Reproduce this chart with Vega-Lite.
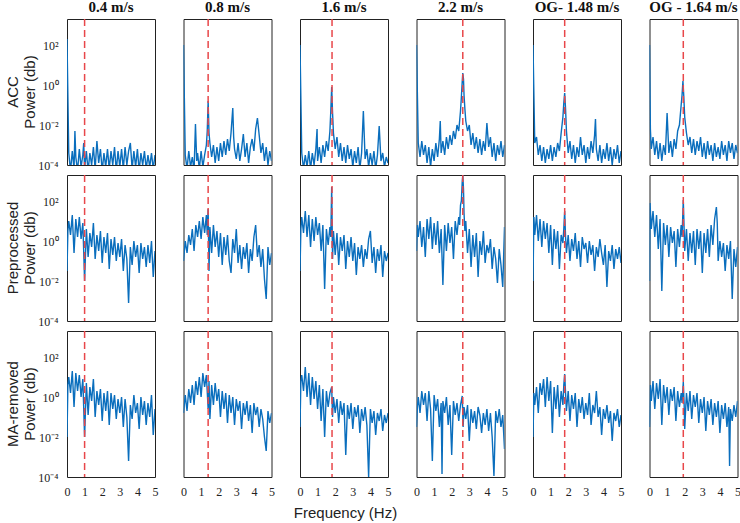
{
"$schema": "https://vega.github.io/schema/vega-lite/v6.json",
"padding": {"left": 5, "top": 0, "right": 0, "bottom": 0},
"background": "white",
"title": {"text": "Frequency (Hz)", "orient": "bottom", "anchor": "start", "dx": 288, "font": "Liberation Sans", "fontSize": 15, "fontWeight": "normal", "color": "#222", "offset": 9},
"data": {"values": [
{"r":"A","c":1,"m":1.0},{"r":"A","c":2,"m":1.4},{"r":"A","c":3,"m":1.82},{"r":"A","c":4,"m":2.63},{"r":"A","c":5,"m":1.8},{"r":"A","c":6,"m":1.92},
{"r":"P","c":1,"m":1.0},{"r":"P","c":2,"m":1.4},{"r":"P","c":3,"m":1.82},{"r":"P","c":4,"m":2.63},{"r":"P","c":5,"m":1.8},{"r":"P","c":6,"m":1.92},
{"r":"M","c":1,"m":1.0},{"r":"M","c":2,"m":1.4},{"r":"M","c":3,"m":1.82},{"r":"M","c":4,"m":2.63},{"r":"M","c":5,"m":1.8},{"r":"M","c":6,"m":1.92},
{"r":"A","c":1,"f":0,"v":2.3},{"r":"A","c":1,"f":0.1,"v":-3.4},{"r":"A","c":1,"f":0.2,"v":-4.3},{"r":"A","c":1,"f":0.3,"v":-3.3},{"r":"A","c":1,"f":0.4,"v":-4.2},{"r":"A","c":1,"f":0.45,"v":-2.3},{"r":"A","c":1,"f":0.5,"v":-3.6},{"r":"A","c":1,"f":0.6,"v":-4.3},{"r":"A","c":1,"f":0.7,"v":-3.2},{"r":"A","c":1,"f":0.8,"v":-4.1},{"r":"A","c":1,"f":0.9,"v":-3.5},{"r":"A","c":1,"f":0.95,"v":-2.9},{"r":"A","c":1,"f":1,"v":-4.2},{"r":"A","c":1,"f":1.1,"v":-3.3},{"r":"A","c":1,"f":1.2,"v":-4.3},{"r":"A","c":1,"f":1.3,"v":-3.4},{"r":"A","c":1,"f":1.4,"v":-4},{"r":"A","c":1,"f":1.5,"v":-3.1},{"r":"A","c":1,"f":1.6,"v":-4.2},{"r":"A","c":1,"f":1.7,"v":-2.8},{"r":"A","c":1,"f":1.8,"v":-3.9},{"r":"A","c":1,"f":1.9,"v":-3.2},{"r":"A","c":1,"f":2,"v":-4.3},{"r":"A","c":1,"f":2.1,"v":-3.4},{"r":"A","c":1,"f":2.2,"v":-4.1},{"r":"A","c":1,"f":2.3,"v":-3.2},{"r":"A","c":1,"f":2.4,"v":-4.2},{"r":"A","c":1,"f":2.5,"v":-3.3},{"r":"A","c":1,"f":2.6,"v":-4},{"r":"A","c":1,"f":2.7,"v":-3.1},{"r":"A","c":1,"f":2.8,"v":-4.3},{"r":"A","c":1,"f":2.9,"v":-3.3},{"r":"A","c":1,"f":3,"v":-4.1},{"r":"A","c":1,"f":3.1,"v":-3.2},{"r":"A","c":1,"f":3.2,"v":-4.2},{"r":"A","c":1,"f":3.3,"v":-3.1},{"r":"A","c":1,"f":3.4,"v":-4},{"r":"A","c":1,"f":3.5,"v":-3.3},{"r":"A","c":1,"f":3.6,"v":-2.9},{"r":"A","c":1,"f":3.7,"v":-4.2},{"r":"A","c":1,"f":3.8,"v":-3.3},{"r":"A","c":1,"f":3.9,"v":-4.1},{"r":"A","c":1,"f":4,"v":-3.2},{"r":"A","c":1,"f":4.1,"v":-4.3},{"r":"A","c":1,"f":4.2,"v":-3.4},{"r":"A","c":1,"f":4.3,"v":-4},{"r":"A","c":1,"f":4.4,"v":-3.3},{"r":"A","c":1,"f":4.5,"v":-4.2},{"r":"A","c":1,"f":4.6,"v":-3.5},{"r":"A","c":1,"f":4.7,"v":-4.1},{"r":"A","c":1,"f":4.8,"v":-3.4},{"r":"A","c":1,"f":4.9,"v":-4.2},{"r":"A","c":1,"f":5,"v":-3.5},
{"r":"A","c":2,"f":0,"v":2.0},{"r":"A","c":2,"f":0.1,"v":-3.5},{"r":"A","c":2,"f":0.2,"v":-4.2},{"r":"A","c":2,"f":0.3,"v":-3.3},{"r":"A","c":2,"f":0.4,"v":-4.1},{"r":"A","c":2,"f":0.5,"v":-3.6},{"r":"A","c":2,"f":0.6,"v":-4.3},{"r":"A","c":2,"f":0.68,"v":-1.95},{"r":"A","c":2,"f":0.75,"v":-3.8},{"r":"A","c":2,"f":0.8,"v":-3.4},{"r":"A","c":2,"f":0.9,"v":-4.2},{"r":"A","c":2,"f":1,"v":-3.3},{"r":"A","c":2,"f":1.1,"v":-4.1},{"r":"A","c":2,"f":1.2,"v":-3.5},{"r":"A","c":2,"f":1.3,"v":-3.0},{"r":"A","c":2,"f":1.35,"v":-2.3},{"r":"A","c":2,"f":1.4,"v":-0.8},{"r":"A","c":2,"f":1.45,"v":-2.4},{"r":"A","c":2,"f":1.5,"v":-2.9},{"r":"A","c":2,"f":1.6,"v":-3.6},{"r":"A","c":2,"f":1.7,"v":-3.0},{"r":"A","c":2,"f":1.8,"v":-3.9},{"r":"A","c":2,"f":1.9,"v":-3.1},{"r":"A","c":2,"f":2,"v":-3.8},{"r":"A","c":2,"f":2.1,"v":-2.9},{"r":"A","c":2,"f":2.2,"v":-3.6},{"r":"A","c":2,"f":2.3,"v":-2.8},{"r":"A","c":2,"f":2.4,"v":-3.5},{"r":"A","c":2,"f":2.5,"v":-2.7},{"r":"A","c":2,"f":2.6,"v":-3.3},{"r":"A","c":2,"f":2.7,"v":-2.4},{"r":"A","c":2,"f":2.8,"v":-1.15},{"r":"A","c":2,"f":2.85,"v":-2.6},{"r":"A","c":2,"f":2.9,"v":-3.2},{"r":"A","c":2,"f":3,"v":-3.7},{"r":"A","c":2,"f":3.1,"v":-2.9},{"r":"A","c":2,"f":3.2,"v":-3.8},{"r":"A","c":2,"f":3.3,"v":-3.2},{"r":"A","c":2,"f":3.4,"v":-2.45},{"r":"A","c":2,"f":3.5,"v":-3.6},{"r":"A","c":2,"f":3.6,"v":-2.9},{"r":"A","c":2,"f":3.7,"v":-3.9},{"r":"A","c":2,"f":3.8,"v":-3.1},{"r":"A","c":2,"f":3.9,"v":-2.7},{"r":"A","c":2,"f":4,"v":-3.3},{"r":"A","c":2,"f":4.1,"v":-2.2},{"r":"A","c":2,"f":4.2,"v":-1.65},{"r":"A","c":2,"f":4.3,"v":-2.5},{"r":"A","c":2,"f":4.4,"v":-3.4},{"r":"A","c":2,"f":4.5,"v":-2.9},{"r":"A","c":2,"f":4.6,"v":-3.8},{"r":"A","c":2,"f":4.7,"v":-3.1},{"r":"A","c":2,"f":4.8,"v":-4.0},{"r":"A","c":2,"f":4.9,"v":-3.3},{"r":"A","c":2,"f":5,"v":-3.8},
{"r":"A","c":3,"f":0,"v":2.0},{"r":"A","c":3,"f":0.1,"v":-3.4},{"r":"A","c":3,"f":0.2,"v":-4.2},{"r":"A","c":3,"f":0.3,"v":-3.5},{"r":"A","c":3,"f":0.4,"v":-4.1},{"r":"A","c":3,"f":0.5,"v":-3.3},{"r":"A","c":3,"f":0.6,"v":-4.2},{"r":"A","c":3,"f":0.7,"v":-3.4},{"r":"A","c":3,"f":0.8,"v":-4.0},{"r":"A","c":3,"f":0.9,"v":-3.2},{"r":"A","c":3,"f":0.97,"v":-2.2},{"r":"A","c":3,"f":1,"v":-3.8},{"r":"A","c":3,"f":1.1,"v":-3.1},{"r":"A","c":3,"f":1.2,"v":-3.9},{"r":"A","c":3,"f":1.3,"v":-3.0},{"r":"A","c":3,"f":1.4,"v":-3.6},{"r":"A","c":3,"f":1.5,"v":-2.8},{"r":"A","c":3,"f":1.6,"v":-3.3},{"r":"A","c":3,"f":1.7,"v":-2.3},{"r":"A","c":3,"f":1.75,"v":-1.3},{"r":"A","c":3,"f":1.8,"v":-0.1},{"r":"A","c":3,"f":1.85,"v":-1.4},{"r":"A","c":3,"f":1.9,"v":-2.4},{"r":"A","c":3,"f":2,"v":-3.2},{"r":"A","c":3,"f":2.1,"v":-2.6},{"r":"A","c":3,"f":2.2,"v":-3.6},{"r":"A","c":3,"f":2.3,"v":-2.9},{"r":"A","c":3,"f":2.4,"v":-3.8},{"r":"A","c":3,"f":2.5,"v":-3.1},{"r":"A","c":3,"f":2.6,"v":-3.9},{"r":"A","c":3,"f":2.7,"v":-3.0},{"r":"A","c":3,"f":2.8,"v":-3.7},{"r":"A","c":3,"f":2.9,"v":-3.2},{"r":"A","c":3,"f":3,"v":-4.1},{"r":"A","c":3,"f":3.1,"v":-3.3},{"r":"A","c":3,"f":3.2,"v":-3.9},{"r":"A","c":3,"f":3.3,"v":-3.1},{"r":"A","c":3,"f":3.4,"v":-4.2},{"r":"A","c":3,"f":3.5,"v":-3.4},{"r":"A","c":3,"f":3.6,"v":-1.3},{"r":"A","c":3,"f":3.7,"v":-3.7},{"r":"A","c":3,"f":3.8,"v":-3.2},{"r":"A","c":3,"f":3.9,"v":-4.1},{"r":"A","c":3,"f":4,"v":-3.4},{"r":"A","c":3,"f":4.1,"v":-4.0},{"r":"A","c":3,"f":4.2,"v":-3.3},{"r":"A","c":3,"f":4.3,"v":-4.2},{"r":"A","c":3,"f":4.4,"v":-3.5},{"r":"A","c":3,"f":4.5,"v":-2.05},{"r":"A","c":3,"f":4.6,"v":-3.8},{"r":"A","c":3,"f":4.7,"v":-3.4},{"r":"A","c":3,"f":4.8,"v":-4.1},{"r":"A","c":3,"f":4.9,"v":-3.6},{"r":"A","c":3,"f":5,"v":-3.9},
{"r":"A","c":4,"f":0,"v":2.0},{"r":"A","c":4,"f":0.1,"v":-2.9},{"r":"A","c":4,"f":0.2,"v":-3.6},{"r":"A","c":4,"f":0.3,"v":-2.8},{"r":"A","c":4,"f":0.4,"v":-3.5},{"r":"A","c":4,"f":0.5,"v":-3.0},{"r":"A","c":4,"f":0.6,"v":-3.9},{"r":"A","c":4,"f":0.7,"v":-3.1},{"r":"A","c":4,"f":0.8,"v":-4.1},{"r":"A","c":4,"f":0.9,"v":-3.2},{"r":"A","c":4,"f":1,"v":-3.8},{"r":"A","c":4,"f":1.1,"v":-2.9},{"r":"A","c":4,"f":1.2,"v":-3.6},{"r":"A","c":4,"f":1.3,"v":-2.7},{"r":"A","c":4,"f":1.35,"v":-1.8},{"r":"A","c":4,"f":1.4,"v":-3.4},{"r":"A","c":4,"f":1.5,"v":-2.8},{"r":"A","c":4,"f":1.6,"v":-3.5},{"r":"A","c":4,"f":1.7,"v":-2.6},{"r":"A","c":4,"f":1.8,"v":-3.2},{"r":"A","c":4,"f":1.9,"v":-2.5},{"r":"A","c":4,"f":2,"v":-3.0},{"r":"A","c":4,"f":2.1,"v":-2.3},{"r":"A","c":4,"f":2.2,"v":-2.7},{"r":"A","c":4,"f":2.3,"v":-2.0},{"r":"A","c":4,"f":2.4,"v":-2.3},{"r":"A","c":4,"f":2.5,"v":-1.3},{"r":"A","c":4,"f":2.55,"v":-0.6},{"r":"A","c":4,"f":2.6,"v":0.2},{"r":"A","c":4,"f":2.63,"v":0.6},{"r":"A","c":4,"f":2.67,"v":0.3},{"r":"A","c":4,"f":2.7,"v":-0.5},{"r":"A","c":4,"f":2.75,"v":-1.2},{"r":"A","c":4,"f":2.8,"v":-1.8},{"r":"A","c":4,"f":2.9,"v":-2.3},{"r":"A","c":4,"f":3,"v":-2.0},{"r":"A","c":4,"f":3.1,"v":-3.0},{"r":"A","c":4,"f":3.2,"v":-2.4},{"r":"A","c":4,"f":3.3,"v":-3.2},{"r":"A","c":4,"f":3.4,"v":-2.6},{"r":"A","c":4,"f":3.5,"v":-3.4},{"r":"A","c":4,"f":3.6,"v":-2.7},{"r":"A","c":4,"f":3.7,"v":-3.5},{"r":"A","c":4,"f":3.8,"v":-2.8},{"r":"A","c":4,"f":3.9,"v":-3.3},{"r":"A","c":4,"f":4,"v":-1.9},{"r":"A","c":4,"f":4.1,"v":-3.1},{"r":"A","c":4,"f":4.2,"v":-2.6},{"r":"A","c":4,"f":4.3,"v":-3.6},{"r":"A","c":4,"f":4.4,"v":-2.9},{"r":"A","c":4,"f":4.5,"v":-3.8},{"r":"A","c":4,"f":4.6,"v":-3.0},{"r":"A","c":4,"f":4.7,"v":-3.5},{"r":"A","c":4,"f":4.8,"v":-2.8},{"r":"A","c":4,"f":4.9,"v":-3.6},{"r":"A","c":4,"f":5,"v":-3.0},
{"r":"A","c":5,"f":0,"v":2.0},{"r":"A","c":5,"f":0.1,"v":-2.9},{"r":"A","c":5,"f":0.2,"v":-2.6},{"r":"A","c":5,"f":0.3,"v":-3.5},{"r":"A","c":5,"f":0.4,"v":-3.0},{"r":"A","c":5,"f":0.5,"v":-3.8},{"r":"A","c":5,"f":0.6,"v":-3.1},{"r":"A","c":5,"f":0.7,"v":-3.9},{"r":"A","c":5,"f":0.8,"v":-3.2},{"r":"A","c":5,"f":0.9,"v":-3.7},{"r":"A","c":5,"f":1,"v":-3.0},{"r":"A","c":5,"f":1.1,"v":-3.8},{"r":"A","c":5,"f":1.2,"v":-3.1},{"r":"A","c":5,"f":1.3,"v":-3.6},{"r":"A","c":5,"f":1.4,"v":-2.9},{"r":"A","c":5,"f":1.5,"v":-3.3},{"r":"A","c":5,"f":1.6,"v":-2.4},{"r":"A","c":5,"f":1.7,"v":-1.6},{"r":"A","c":5,"f":1.75,"v":-0.9},{"r":"A","c":5,"f":1.8,"v":-0.4},{"r":"A","c":5,"f":1.85,"v":-1.2},{"r":"A","c":5,"f":1.9,"v":-2.3},{"r":"A","c":5,"f":2,"v":-3.4},{"r":"A","c":5,"f":2.1,"v":-2.8},{"r":"A","c":5,"f":2.2,"v":-3.7},{"r":"A","c":5,"f":2.3,"v":-3.0},{"r":"A","c":5,"f":2.4,"v":-3.9},{"r":"A","c":5,"f":2.5,"v":-3.1},{"r":"A","c":5,"f":2.6,"v":-3.6},{"r":"A","c":5,"f":2.7,"v":-2.6},{"r":"A","c":5,"f":2.8,"v":-3.5},{"r":"A","c":5,"f":2.9,"v":-3.0},{"r":"A","c":5,"f":3,"v":-3.9},{"r":"A","c":5,"f":3.1,"v":-3.1},{"r":"A","c":5,"f":3.2,"v":-3.7},{"r":"A","c":5,"f":3.3,"v":-2.8},{"r":"A","c":5,"f":3.4,"v":-3.4},{"r":"A","c":5,"f":3.5,"v":-2.5},{"r":"A","c":5,"f":3.55,"v":-1.7},{"r":"A","c":5,"f":3.6,"v":-3.2},{"r":"A","c":5,"f":3.7,"v":-3.8},{"r":"A","c":5,"f":3.8,"v":-3.0},{"r":"A","c":5,"f":3.9,"v":-3.9},{"r":"A","c":5,"f":4,"v":-3.2},{"r":"A","c":5,"f":4.1,"v":-3.7},{"r":"A","c":5,"f":4.2,"v":-2.9},{"r":"A","c":5,"f":4.3,"v":-3.8},{"r":"A","c":5,"f":4.4,"v":-3.1},{"r":"A","c":5,"f":4.5,"v":-4.0},{"r":"A","c":5,"f":4.6,"v":-3.2},{"r":"A","c":5,"f":4.7,"v":-3.7},{"r":"A","c":5,"f":4.8,"v":-3.0},{"r":"A","c":5,"f":4.9,"v":-3.9},{"r":"A","c":5,"f":5,"v":-3.3},
{"r":"A","c":6,"f":0,"v":2.0},{"r":"A","c":6,"f":0.05,"v":-2.2},{"r":"A","c":6,"f":0.1,"v":-3.2},{"r":"A","c":6,"f":0.2,"v":-2.6},{"r":"A","c":6,"f":0.3,"v":-3.5},{"r":"A","c":6,"f":0.4,"v":-2.8},{"r":"A","c":6,"f":0.5,"v":-3.7},{"r":"A","c":6,"f":0.6,"v":-2.9},{"r":"A","c":6,"f":0.7,"v":-3.8},{"r":"A","c":6,"f":0.8,"v":-3.0},{"r":"A","c":6,"f":0.9,"v":-3.5},{"r":"A","c":6,"f":1,"v":-1.4},{"r":"A","c":6,"f":1.1,"v":-3.4},{"r":"A","c":6,"f":1.2,"v":-2.8},{"r":"A","c":6,"f":1.3,"v":-3.6},{"r":"A","c":6,"f":1.4,"v":-2.7},{"r":"A","c":6,"f":1.5,"v":-3.2},{"r":"A","c":6,"f":1.6,"v":-2.3},{"r":"A","c":6,"f":1.7,"v":-2.0},{"r":"A","c":6,"f":1.8,"v":-1.0},{"r":"A","c":6,"f":1.85,"v":-0.5},{"r":"A","c":6,"f":1.9,"v":0.2},{"r":"A","c":6,"f":1.95,"v":-0.6},{"r":"A","c":6,"f":2,"v":-1.6},{"r":"A","c":6,"f":2.1,"v":-2.4},{"r":"A","c":6,"f":2.2,"v":-3.0},{"r":"A","c":6,"f":2.3,"v":-2.6},{"r":"A","c":6,"f":2.4,"v":-3.4},{"r":"A","c":6,"f":2.5,"v":-2.7},{"r":"A","c":6,"f":2.6,"v":-3.5},{"r":"A","c":6,"f":2.7,"v":-2.8},{"r":"A","c":6,"f":2.8,"v":-3.3},{"r":"A","c":6,"f":2.9,"v":-2.6},{"r":"A","c":6,"f":3,"v":-3.6},{"r":"A","c":6,"f":3.1,"v":-2.9},{"r":"A","c":6,"f":3.2,"v":-3.7},{"r":"A","c":6,"f":3.3,"v":-2.8},{"r":"A","c":6,"f":3.4,"v":-3.5},{"r":"A","c":6,"f":3.5,"v":-3.0},{"r":"A","c":6,"f":3.6,"v":-3.8},{"r":"A","c":6,"f":3.7,"v":-2.9},{"r":"A","c":6,"f":3.8,"v":-3.6},{"r":"A","c":6,"f":3.9,"v":-3.1},{"r":"A","c":6,"f":4,"v":-3.7},{"r":"A","c":6,"f":4.1,"v":-2.8},{"r":"A","c":6,"f":4.2,"v":-3.5},{"r":"A","c":6,"f":4.3,"v":-3.0},{"r":"A","c":6,"f":4.4,"v":-3.8},{"r":"A","c":6,"f":4.5,"v":-2.8},{"r":"A","c":6,"f":4.6,"v":-3.4},{"r":"A","c":6,"f":4.7,"v":-2.9},{"r":"A","c":6,"f":4.8,"v":-3.7},{"r":"A","c":6,"f":4.9,"v":-3.0},{"r":"A","c":6,"f":5,"v":-3.4},
{"r":"P","c":1,"f":0,"v":-1.5},{"r":"P","c":1,"f":0.05,"v":0.5},{"r":"P","c":1,"f":0.1,"v":1.0},{"r":"P","c":1,"f":0.2,"v":0.3},{"r":"P","c":1,"f":0.3,"v":1.3},{"r":"P","c":1,"f":0.4,"v":-0.6},{"r":"P","c":1,"f":0.5,"v":1.1},{"r":"P","c":1,"f":0.6,"v":0.2},{"r":"P","c":1,"f":0.7,"v":1.2},{"r":"P","c":1,"f":0.8,"v":0.1},{"r":"P","c":1,"f":0.9,"v":0.9},{"r":"P","c":1,"f":1,"v":-2.0},{"r":"P","c":1,"f":1.1,"v":0.6},{"r":"P","c":1,"f":1.2,"v":-0.8},{"r":"P","c":1,"f":1.3,"v":0.4},{"r":"P","c":1,"f":1.4,"v":-0.3},{"r":"P","c":1,"f":1.5,"v":0.9},{"r":"P","c":1,"f":1.6,"v":-0.9},{"r":"P","c":1,"f":1.7,"v":0.3},{"r":"P","c":1,"f":1.8,"v":-0.5},{"r":"P","c":1,"f":1.9,"v":0.5},{"r":"P","c":1,"f":2,"v":-1.1},{"r":"P","c":1,"f":2.1,"v":0.2},{"r":"P","c":1,"f":2.2,"v":-0.6},{"r":"P","c":1,"f":2.3,"v":0.4},{"r":"P","c":1,"f":2.4,"v":-1.4},{"r":"P","c":1,"f":2.5,"v":0.1},{"r":"P","c":1,"f":2.6,"v":-0.7},{"r":"P","c":1,"f":2.7,"v":0.2},{"r":"P","c":1,"f":2.8,"v":-1.0},{"r":"P","c":1,"f":2.9,"v":-0.1},{"r":"P","c":1,"f":3,"v":-0.8},{"r":"P","c":1,"f":3.1,"v":0.1},{"r":"P","c":1,"f":3.2,"v":-1.5},{"r":"P","c":1,"f":3.3,"v":-0.2},{"r":"P","c":1,"f":3.4,"v":-0.9},{"r":"P","c":1,"f":3.5,"v":-3.1},{"r":"P","c":1,"f":3.6,"v":-0.3},{"r":"P","c":1,"f":3.7,"v":-1.2},{"r":"P","c":1,"f":3.8,"v":0.0},{"r":"P","c":1,"f":3.9,"v":-0.8},{"r":"P","c":1,"f":4,"v":-0.2},{"r":"P","c":1,"f":4.1,"v":-1.6},{"r":"P","c":1,"f":4.2,"v":-0.1},{"r":"P","c":1,"f":4.3,"v":-0.9},{"r":"P","c":1,"f":4.4,"v":-0.3},{"r":"P","c":1,"f":4.5,"v":-1.3},{"r":"P","c":1,"f":4.6,"v":-0.2},{"r":"P","c":1,"f":4.7,"v":-1.1},{"r":"P","c":1,"f":4.8,"v":0.0},{"r":"P","c":1,"f":4.9,"v":-1.8},{"r":"P","c":1,"f":5,"v":-0.5},
{"r":"P","c":2,"f":0,"v":-1.0},{"r":"P","c":2,"f":0.1,"v":0.0},{"r":"P","c":2,"f":0.2,"v":-0.6},{"r":"P","c":2,"f":0.3,"v":0.3},{"r":"P","c":2,"f":0.4,"v":-0.2},{"r":"P","c":2,"f":0.5,"v":0.6},{"r":"P","c":2,"f":0.6,"v":-0.5},{"r":"P","c":2,"f":0.7,"v":0.8},{"r":"P","c":2,"f":0.8,"v":0.2},{"r":"P","c":2,"f":0.9,"v":1.0},{"r":"P","c":2,"f":1,"v":0.1},{"r":"P","c":2,"f":1.1,"v":1.2},{"r":"P","c":2,"f":1.2,"v":0.4},{"r":"P","c":2,"f":1.3,"v":1.3},{"r":"P","c":2,"f":1.35,"v":0.3},{"r":"P","c":2,"f":1.4,"v":1.6},{"r":"P","c":2,"f":1.45,"v":-1.5},{"r":"P","c":2,"f":1.5,"v":0.7},{"r":"P","c":2,"f":1.6,"v":-0.6},{"r":"P","c":2,"f":1.7,"v":0.8},{"r":"P","c":2,"f":1.8,"v":-0.3},{"r":"P","c":2,"f":1.9,"v":0.5},{"r":"P","c":2,"f":2,"v":-0.8},{"r":"P","c":2,"f":2.1,"v":0.4},{"r":"P","c":2,"f":2.2,"v":-1.2},{"r":"P","c":2,"f":2.3,"v":0.2},{"r":"P","c":2,"f":2.4,"v":-0.7},{"r":"P","c":2,"f":2.5,"v":0.3},{"r":"P","c":2,"f":2.6,"v":-1.0},{"r":"P","c":2,"f":2.7,"v":-1.6},{"r":"P","c":2,"f":2.8,"v":0.1},{"r":"P","c":2,"f":2.9,"v":-0.6},{"r":"P","c":2,"f":3,"v":0.6},{"r":"P","c":2,"f":3.1,"v":-1.1},{"r":"P","c":2,"f":3.2,"v":-0.2},{"r":"P","c":2,"f":3.3,"v":-1.4},{"r":"P","c":2,"f":3.4,"v":-0.3},{"r":"P","c":2,"f":3.5,"v":-0.9},{"r":"P","c":2,"f":3.6,"v":-0.1},{"r":"P","c":2,"f":3.7,"v":-1.6},{"r":"P","c":2,"f":3.8,"v":-0.4},{"r":"P","c":2,"f":3.9,"v":-1.0},{"r":"P","c":2,"f":4,"v":0.2},{"r":"P","c":2,"f":4.1,"v":0.8},{"r":"P","c":2,"f":4.2,"v":-0.8},{"r":"P","c":2,"f":4.3,"v":-0.2},{"r":"P","c":2,"f":4.4,"v":-1.3},{"r":"P","c":2,"f":4.5,"v":-0.4},{"r":"P","c":2,"f":4.6,"v":-1.9},{"r":"P","c":2,"f":4.7,"v":-2.9},{"r":"P","c":2,"f":4.8,"v":-0.3},{"r":"P","c":2,"f":4.9,"v":-1.2},{"r":"P","c":2,"f":5,"v":-0.6},
{"r":"P","c":3,"f":0,"v":-1.5},{"r":"P","c":3,"f":0.05,"v":0.6},{"r":"P","c":3,"f":0.1,"v":1.2},{"r":"P","c":3,"f":0.2,"v":0.4},{"r":"P","c":3,"f":0.3,"v":1.5},{"r":"P","c":3,"f":0.4,"v":0.2},{"r":"P","c":3,"f":0.5,"v":1.3},{"r":"P","c":3,"f":0.6,"v":-0.3},{"r":"P","c":3,"f":0.7,"v":1.1},{"r":"P","c":3,"f":0.8,"v":0.0},{"r":"P","c":3,"f":0.9,"v":1.2},{"r":"P","c":3,"f":1,"v":0.3},{"r":"P","c":3,"f":1.1,"v":0.9},{"r":"P","c":3,"f":1.2,"v":-0.5},{"r":"P","c":3,"f":1.3,"v":0.8},{"r":"P","c":3,"f":1.4,"v":-2.4},{"r":"P","c":3,"f":1.5,"v":0.6},{"r":"P","c":3,"f":1.6,"v":-0.2},{"r":"P","c":3,"f":1.7,"v":0.7},{"r":"P","c":3,"f":1.75,"v":0.2},{"r":"P","c":3,"f":1.8,"v":2.7},{"r":"P","c":3,"f":1.85,"v":-0.9},{"r":"P","c":3,"f":1.9,"v":0.5},{"r":"P","c":3,"f":2,"v":-0.7},{"r":"P","c":3,"f":2.1,"v":0.4},{"r":"P","c":3,"f":2.2,"v":-1.2},{"r":"P","c":3,"f":2.3,"v":0.2},{"r":"P","c":3,"f":2.4,"v":-0.5},{"r":"P","c":3,"f":2.5,"v":0.3},{"r":"P","c":3,"f":2.6,"v":-1.4},{"r":"P","c":3,"f":2.7,"v":0.0},{"r":"P","c":3,"f":2.8,"v":-0.8},{"r":"P","c":3,"f":2.9,"v":0.2},{"r":"P","c":3,"f":3,"v":-1.0},{"r":"P","c":3,"f":3.1,"v":-0.1},{"r":"P","c":3,"f":3.2,"v":-1.7},{"r":"P","c":3,"f":3.3,"v":-0.3},{"r":"P","c":3,"f":3.4,"v":-0.9},{"r":"P","c":3,"f":3.5,"v":-0.2},{"r":"P","c":3,"f":3.6,"v":-1.3},{"r":"P","c":3,"f":3.7,"v":-0.4},{"r":"P","c":3,"f":3.8,"v":-0.9},{"r":"P","c":3,"f":3.9,"v":0.1},{"r":"P","c":3,"f":4,"v":0.5},{"r":"P","c":3,"f":4.1,"v":-1.1},{"r":"P","c":3,"f":4.2,"v":-0.3},{"r":"P","c":3,"f":4.3,"v":-1.6},{"r":"P","c":3,"f":4.4,"v":-0.4},{"r":"P","c":3,"f":4.5,"v":-1.0},{"r":"P","c":3,"f":4.6,"v":-0.2},{"r":"P","c":3,"f":4.7,"v":-1.8},{"r":"P","c":3,"f":4.8,"v":-0.5},{"r":"P","c":3,"f":4.9,"v":-1.0},{"r":"P","c":3,"f":5,"v":-0.6},
{"r":"P","c":4,"f":0,"v":-0.5},{"r":"P","c":4,"f":0.05,"v":0.8},{"r":"P","c":4,"f":0.1,"v":0.2},{"r":"P","c":4,"f":0.2,"v":1.0},{"r":"P","c":4,"f":0.3,"v":-0.3},{"r":"P","c":4,"f":0.4,"v":0.7},{"r":"P","c":4,"f":0.5,"v":-0.8},{"r":"P","c":4,"f":0.6,"v":1.1},{"r":"P","c":4,"f":0.7,"v":0.1},{"r":"P","c":4,"f":0.8,"v":1.2},{"r":"P","c":4,"f":0.9,"v":-0.4},{"r":"P","c":4,"f":1,"v":0.9},{"r":"P","c":4,"f":1.1,"v":-0.2},{"r":"P","c":4,"f":1.2,"v":1.0},{"r":"P","c":4,"f":1.3,"v":-0.6},{"r":"P","c":4,"f":1.4,"v":0.6},{"r":"P","c":4,"f":1.5,"v":-2.2},{"r":"P","c":4,"f":1.6,"v":0.8},{"r":"P","c":4,"f":1.7,"v":-0.5},{"r":"P","c":4,"f":1.8,"v":0.9},{"r":"P","c":4,"f":1.9,"v":-0.1},{"r":"P","c":4,"f":2,"v":0.7},{"r":"P","c":4,"f":2.1,"v":-0.9},{"r":"P","c":4,"f":2.2,"v":1.0},{"r":"P","c":4,"f":2.3,"v":0.3},{"r":"P","c":4,"f":2.4,"v":1.2},{"r":"P","c":4,"f":2.45,"v":0.8},{"r":"P","c":4,"f":2.5,"v":1.8},{"r":"P","c":4,"f":2.55,"v":2.0},{"r":"P","c":4,"f":2.6,"v":3.0},{"r":"P","c":4,"f":2.63,"v":3.3},{"r":"P","c":4,"f":2.67,"v":2.6},{"r":"P","c":4,"f":2.7,"v":1.4},{"r":"P","c":4,"f":2.75,"v":0.5},{"r":"P","c":4,"f":2.8,"v":1.0},{"r":"P","c":4,"f":2.9,"v":-0.6},{"r":"P","c":4,"f":3,"v":0.6},{"r":"P","c":4,"f":3.1,"v":-1.3},{"r":"P","c":4,"f":3.2,"v":0.3},{"r":"P","c":4,"f":3.3,"v":-0.8},{"r":"P","c":4,"f":3.4,"v":0.4},{"r":"P","c":4,"f":3.5,"v":-1.8},{"r":"P","c":4,"f":3.6,"v":0.0},{"r":"P","c":4,"f":3.7,"v":-0.7},{"r":"P","c":4,"f":3.8,"v":0.5},{"r":"P","c":4,"f":3.9,"v":-1.1},{"r":"P","c":4,"f":4,"v":-0.2},{"r":"P","c":4,"f":4.1,"v":-0.6},{"r":"P","c":4,"f":4.2,"v":0.1},{"r":"P","c":4,"f":4.3,"v":-1.4},{"r":"P","c":4,"f":4.4,"v":-0.3},{"r":"P","c":4,"f":4.5,"v":-0.9},{"r":"P","c":4,"f":4.6,"v":-2.1},{"r":"P","c":4,"f":4.7,"v":-0.4},{"r":"P","c":4,"f":4.8,"v":-1.2},{"r":"P","c":4,"f":4.9,"v":-2.3},{"r":"P","c":4,"f":5,"v":0.7},
{"r":"P","c":5,"f":0,"v":-2.0},{"r":"P","c":5,"f":0.05,"v":1.2},{"r":"P","c":5,"f":0.1,"v":0.3},{"r":"P","c":5,"f":0.2,"v":1.3},{"r":"P","c":5,"f":0.3,"v":0.0},{"r":"P","c":5,"f":0.4,"v":1.1},{"r":"P","c":5,"f":0.5,"v":-0.3},{"r":"P","c":5,"f":0.6,"v":1.0},{"r":"P","c":5,"f":0.7,"v":0.1},{"r":"P","c":5,"f":0.8,"v":0.9},{"r":"P","c":5,"f":0.9,"v":-0.6},{"r":"P","c":5,"f":1,"v":0.8},{"r":"P","c":5,"f":1.1,"v":-1.2},{"r":"P","c":5,"f":1.2,"v":0.6},{"r":"P","c":5,"f":1.3,"v":-0.4},{"r":"P","c":5,"f":1.4,"v":0.5},{"r":"P","c":5,"f":1.5,"v":-1.4},{"r":"P","c":5,"f":1.6,"v":0.3},{"r":"P","c":5,"f":1.7,"v":-0.1},{"r":"P","c":5,"f":1.75,"v":0.6},{"r":"P","c":5,"f":1.8,"v":1.5},{"r":"P","c":5,"f":1.85,"v":0.2},{"r":"P","c":5,"f":1.9,"v":-0.6},{"r":"P","c":5,"f":2,"v":0.3},{"r":"P","c":5,"f":2.1,"v":-1.0},{"r":"P","c":5,"f":2.2,"v":0.1},{"r":"P","c":5,"f":2.3,"v":-0.5},{"r":"P","c":5,"f":2.4,"v":0.4},{"r":"P","c":5,"f":2.5,"v":-0.9},{"r":"P","c":5,"f":2.6,"v":0.0},{"r":"P","c":5,"f":2.7,"v":-1.3},{"r":"P","c":5,"f":2.8,"v":0.2},{"r":"P","c":5,"f":2.9,"v":-0.4},{"r":"P","c":5,"f":3,"v":-0.1},{"r":"P","c":5,"f":3.1,"v":-1.1},{"r":"P","c":5,"f":3.2,"v":0.0},{"r":"P","c":5,"f":3.3,"v":-0.7},{"r":"P","c":5,"f":3.4,"v":-0.2},{"r":"P","c":5,"f":3.5,"v":-1.5},{"r":"P","c":5,"f":3.6,"v":-0.3},{"r":"P","c":5,"f":3.7,"v":-0.8},{"r":"P","c":5,"f":3.8,"v":0.1},{"r":"P","c":5,"f":3.9,"v":-0.6},{"r":"P","c":5,"f":4,"v":-1.2},{"r":"P","c":5,"f":4.1,"v":-0.2},{"r":"P","c":5,"f":4.2,"v":-2.3},{"r":"P","c":5,"f":4.3,"v":-0.5},{"r":"P","c":5,"f":4.4,"v":-1.0},{"r":"P","c":5,"f":4.5,"v":-0.2},{"r":"P","c":5,"f":4.6,"v":-1.4},{"r":"P","c":5,"f":4.7,"v":-0.4},{"r":"P","c":5,"f":4.8,"v":-0.9},{"r":"P","c":5,"f":4.9,"v":-0.3},{"r":"P","c":5,"f":5,"v":-1.1},
{"r":"P","c":6,"f":0,"v":-2.0},{"r":"P","c":6,"f":0.03,"v":1.9},{"r":"P","c":6,"f":0.1,"v":0.6},{"r":"P","c":6,"f":0.2,"v":1.5},{"r":"P","c":6,"f":0.3,"v":0.2},{"r":"P","c":6,"f":0.4,"v":1.3},{"r":"P","c":6,"f":0.5,"v":-0.4},{"r":"P","c":6,"f":0.6,"v":1.1},{"r":"P","c":6,"f":0.7,"v":-2.5},{"r":"P","c":6,"f":0.8,"v":0.9},{"r":"P","c":6,"f":0.9,"v":-0.2},{"r":"P","c":6,"f":1,"v":0.8},{"r":"P","c":6,"f":1.1,"v":-0.8},{"r":"P","c":6,"f":1.2,"v":0.7},{"r":"P","c":6,"f":1.3,"v":-0.1},{"r":"P","c":6,"f":1.4,"v":0.5},{"r":"P","c":6,"f":1.5,"v":-1.3},{"r":"P","c":6,"f":1.6,"v":0.6},{"r":"P","c":6,"f":1.7,"v":-0.3},{"r":"P","c":6,"f":1.8,"v":0.8},{"r":"P","c":6,"f":1.85,"v":0.2},{"r":"P","c":6,"f":1.92,"v":2.05},{"r":"P","c":6,"f":1.97,"v":0.5},{"r":"P","c":6,"f":2,"v":-0.5},{"r":"P","c":6,"f":2.1,"v":0.6},{"r":"P","c":6,"f":2.2,"v":-1.0},{"r":"P","c":6,"f":2.3,"v":0.4},{"r":"P","c":6,"f":2.4,"v":-0.6},{"r":"P","c":6,"f":2.5,"v":0.5},{"r":"P","c":6,"f":2.6,"v":-1.2},{"r":"P","c":6,"f":2.7,"v":0.6},{"r":"P","c":6,"f":2.8,"v":-0.4},{"r":"P","c":6,"f":2.9,"v":0.5},{"r":"P","c":6,"f":3,"v":-1.6},{"r":"P","c":6,"f":3.1,"v":0.4},{"r":"P","c":6,"f":3.2,"v":-0.6},{"r":"P","c":6,"f":3.3,"v":0.6},{"r":"P","c":6,"f":3.4,"v":-0.8},{"r":"P","c":6,"f":3.5,"v":0.8},{"r":"P","c":6,"f":3.6,"v":-0.2},{"r":"P","c":6,"f":3.7,"v":1.1},{"r":"P","c":6,"f":3.8,"v":1.7},{"r":"P","c":6,"f":3.85,"v":0.9},{"r":"P","c":6,"f":3.9,"v":-1.0},{"r":"P","c":6,"f":4,"v":0.0},{"r":"P","c":6,"f":4.1,"v":-0.8},{"r":"P","c":6,"f":4.2,"v":-0.1},{"r":"P","c":6,"f":4.3,"v":-1.5},{"r":"P","c":6,"f":4.4,"v":-0.2},{"r":"P","c":6,"f":4.5,"v":-0.9},{"r":"P","c":6,"f":4.6,"v":0.0},{"r":"P","c":6,"f":4.7,"v":-2.9},{"r":"P","c":6,"f":4.8,"v":-0.4},{"r":"P","c":6,"f":4.9,"v":-1.3},{"r":"P","c":6,"f":5,"v":-0.3},
{"r":"M","c":1,"f":0,"v":-2.0},{"r":"M","c":1,"f":0.05,"v":0.6},{"r":"M","c":1,"f":0.1,"v":1.0},{"r":"M","c":1,"f":0.2,"v":0.2},{"r":"M","c":1,"f":0.3,"v":1.3},{"r":"M","c":1,"f":0.4,"v":-0.5},{"r":"M","c":1,"f":0.5,"v":1.2},{"r":"M","c":1,"f":0.6,"v":0.3},{"r":"M","c":1,"f":0.7,"v":1.1},{"r":"M","c":1,"f":0.8,"v":0.0},{"r":"M","c":1,"f":0.9,"v":0.9},{"r":"M","c":1,"f":1,"v":-2.0},{"r":"M","c":1,"f":1.1,"v":0.7},{"r":"M","c":1,"f":1.2,"v":-0.9},{"r":"M","c":1,"f":1.3,"v":0.5},{"r":"M","c":1,"f":1.4,"v":-0.2},{"r":"M","c":1,"f":1.5,"v":0.9},{"r":"M","c":1,"f":1.6,"v":-1.0},{"r":"M","c":1,"f":1.7,"v":0.3},{"r":"M","c":1,"f":1.8,"v":-0.4},{"r":"M","c":1,"f":1.9,"v":0.4},{"r":"M","c":1,"f":2,"v":-1.2},{"r":"M","c":1,"f":2.1,"v":0.2},{"r":"M","c":1,"f":2.2,"v":-0.7},{"r":"M","c":1,"f":2.3,"v":0.3},{"r":"M","c":1,"f":2.4,"v":-1.4},{"r":"M","c":1,"f":2.5,"v":0.2},{"r":"M","c":1,"f":2.6,"v":-0.6},{"r":"M","c":1,"f":2.7,"v":0.1},{"r":"M","c":1,"f":2.8,"v":-1.1},{"r":"M","c":1,"f":2.9,"v":-0.1},{"r":"M","c":1,"f":3,"v":-0.8},{"r":"M","c":1,"f":3.1,"v":0.0},{"r":"M","c":1,"f":3.2,"v":-1.5},{"r":"M","c":1,"f":3.3,"v":-0.1},{"r":"M","c":1,"f":3.4,"v":-1.0},{"r":"M","c":1,"f":3.5,"v":-3.2},{"r":"M","c":1,"f":3.6,"v":-0.4},{"r":"M","c":1,"f":3.7,"v":-1.1},{"r":"M","c":1,"f":3.8,"v":0.1},{"r":"M","c":1,"f":3.9,"v":-0.8},{"r":"M","c":1,"f":4,"v":-0.3},{"r":"M","c":1,"f":4.1,"v":-1.6},{"r":"M","c":1,"f":4.2,"v":0.0},{"r":"M","c":1,"f":4.3,"v":-0.9},{"r":"M","c":1,"f":4.4,"v":-0.2},{"r":"M","c":1,"f":4.5,"v":-1.4},{"r":"M","c":1,"f":4.6,"v":-0.3},{"r":"M","c":1,"f":4.7,"v":-1.0},{"r":"M","c":1,"f":4.8,"v":0.1},{"r":"M","c":1,"f":4.9,"v":-1.9},{"r":"M","c":1,"f":5,"v":-0.6},
{"r":"M","c":2,"f":0,"v":-0.8},{"r":"M","c":2,"f":0.1,"v":0.1},{"r":"M","c":2,"f":0.2,"v":-0.7},{"r":"M","c":2,"f":0.3,"v":0.4},{"r":"M","c":2,"f":0.4,"v":-0.3},{"r":"M","c":2,"f":0.5,"v":0.6},{"r":"M","c":2,"f":0.6,"v":-0.4},{"r":"M","c":2,"f":0.7,"v":0.8},{"r":"M","c":2,"f":0.8,"v":0.1},{"r":"M","c":2,"f":0.9,"v":1.0},{"r":"M","c":2,"f":1,"v":0.0},{"r":"M","c":2,"f":1.1,"v":1.2},{"r":"M","c":2,"f":1.2,"v":0.5},{"r":"M","c":2,"f":1.3,"v":1.1},{"r":"M","c":2,"f":1.4,"v":-0.6},{"r":"M","c":2,"f":1.45,"v":0.8},{"r":"M","c":2,"f":1.5,"v":-1.1},{"r":"M","c":2,"f":1.6,"v":0.6},{"r":"M","c":2,"f":1.7,"v":-0.4},{"r":"M","c":2,"f":1.8,"v":0.7},{"r":"M","c":2,"f":1.9,"v":-0.2},{"r":"M","c":2,"f":2,"v":0.4},{"r":"M","c":2,"f":2.1,"v":-1.0},{"r":"M","c":2,"f":2.2,"v":0.3},{"r":"M","c":2,"f":2.3,"v":-0.6},{"r":"M","c":2,"f":2.4,"v":0.2},{"r":"M","c":2,"f":2.5,"v":-1.3},{"r":"M","c":2,"f":2.6,"v":0.1},{"r":"M","c":2,"f":2.7,"v":-0.8},{"r":"M","c":2,"f":2.8,"v":0.0},{"r":"M","c":2,"f":2.9,"v":-1.4},{"r":"M","c":2,"f":3,"v":-0.1},{"r":"M","c":2,"f":3.1,"v":-0.7},{"r":"M","c":2,"f":3.2,"v":-0.2},{"r":"M","c":2,"f":3.3,"v":-1.6},{"r":"M","c":2,"f":3.4,"v":-0.3},{"r":"M","c":2,"f":3.5,"v":-0.9},{"r":"M","c":2,"f":3.6,"v":-0.2},{"r":"M","c":2,"f":3.7,"v":-1.2},{"r":"M","c":2,"f":3.8,"v":-0.4},{"r":"M","c":2,"f":3.9,"v":-1.8},{"r":"M","c":2,"f":4,"v":-0.3},{"r":"M","c":2,"f":4.1,"v":-0.9},{"r":"M","c":2,"f":4.2,"v":-0.5},{"r":"M","c":2,"f":4.3,"v":-1.5},{"r":"M","c":2,"f":4.4,"v":-0.6},{"r":"M","c":2,"f":4.5,"v":-1.1},{"r":"M","c":2,"f":4.6,"v":-2.0},{"r":"M","c":2,"f":4.7,"v":-2.7},{"r":"M","c":2,"f":4.8,"v":-0.7},{"r":"M","c":2,"f":4.9,"v":-1.3},{"r":"M","c":2,"f":5,"v":-0.8},
{"r":"M","c":3,"f":0,"v":-1.5},{"r":"M","c":3,"f":0.05,"v":0.8},{"r":"M","c":3,"f":0.1,"v":1.1},{"r":"M","c":3,"f":0.2,"v":0.3},{"r":"M","c":3,"f":0.3,"v":1.5},{"r":"M","c":3,"f":0.4,"v":0.0},{"r":"M","c":3,"f":0.5,"v":1.2},{"r":"M","c":3,"f":0.6,"v":-0.4},{"r":"M","c":3,"f":0.7,"v":1.0},{"r":"M","c":3,"f":0.8,"v":-0.1},{"r":"M","c":3,"f":0.9,"v":0.8},{"r":"M","c":3,"f":1,"v":-0.6},{"r":"M","c":3,"f":1.1,"v":0.6},{"r":"M","c":3,"f":1.2,"v":-1.2},{"r":"M","c":3,"f":1.3,"v":0.4},{"r":"M","c":3,"f":1.4,"v":-2.0},{"r":"M","c":3,"f":1.5,"v":0.3},{"r":"M","c":3,"f":1.6,"v":-0.5},{"r":"M","c":3,"f":1.7,"v":0.2},{"r":"M","c":3,"f":1.8,"v":0.5},{"r":"M","c":3,"f":1.85,"v":-1.0},{"r":"M","c":3,"f":1.9,"v":0.0},{"r":"M","c":3,"f":2,"v":-0.8},{"r":"M","c":3,"f":2.1,"v":-0.1},{"r":"M","c":3,"f":2.2,"v":-1.3},{"r":"M","c":3,"f":2.3,"v":-0.2},{"r":"M","c":3,"f":2.4,"v":-0.9},{"r":"M","c":3,"f":2.5,"v":-0.3},{"r":"M","c":3,"f":2.6,"v":-2.9},{"r":"M","c":3,"f":2.7,"v":-0.4},{"r":"M","c":3,"f":2.8,"v":-1.1},{"r":"M","c":3,"f":2.9,"v":-0.3},{"r":"M","c":3,"f":3,"v":-1.6},{"r":"M","c":3,"f":3.1,"v":-0.5},{"r":"M","c":3,"f":3.2,"v":-1.0},{"r":"M","c":3,"f":3.3,"v":-0.4},{"r":"M","c":3,"f":3.4,"v":-1.8},{"r":"M","c":3,"f":3.5,"v":-0.6},{"r":"M","c":3,"f":3.6,"v":-1.2},{"r":"M","c":3,"f":3.7,"v":-0.5},{"r":"M","c":3,"f":3.8,"v":-1.4},{"r":"M","c":3,"f":3.9,"v":-4.0},{"r":"M","c":3,"f":4,"v":-0.6},{"r":"M","c":3,"f":4.1,"v":-1.3},{"r":"M","c":3,"f":4.2,"v":-0.7},{"r":"M","c":3,"f":4.3,"v":-1.9},{"r":"M","c":3,"f":4.4,"v":-0.8},{"r":"M","c":3,"f":4.5,"v":-1.2},{"r":"M","c":3,"f":4.6,"v":-0.6},{"r":"M","c":3,"f":4.7,"v":-1.7},{"r":"M","c":3,"f":4.8,"v":-0.9},{"r":"M","c":3,"f":4.9,"v":-1.3},{"r":"M","c":3,"f":5,"v":-0.8},
{"r":"M","c":4,"f":0,"v":-1.5},{"r":"M","c":4,"f":0.05,"v":-0.5},{"r":"M","c":4,"f":0.1,"v":0.0},{"r":"M","c":4,"f":0.2,"v":-0.8},{"r":"M","c":4,"f":0.3,"v":0.3},{"r":"M","c":4,"f":0.4,"v":-0.4},{"r":"M","c":4,"f":0.5,"v":0.2},{"r":"M","c":4,"f":0.6,"v":-1.2},{"r":"M","c":4,"f":0.7,"v":0.3},{"r":"M","c":4,"f":0.8,"v":-0.6},{"r":"M","c":4,"f":0.9,"v":-3.2},{"r":"M","c":4,"f":1,"v":0.1},{"r":"M","c":4,"f":1.1,"v":-0.7},{"r":"M","c":4,"f":1.2,"v":-0.1},{"r":"M","c":4,"f":1.3,"v":-1.5},{"r":"M","c":4,"f":1.4,"v":-0.3},{"r":"M","c":4,"f":1.45,"v":-3.85},{"r":"M","c":4,"f":1.5,"v":-0.2},{"r":"M","c":4,"f":1.6,"v":-0.8},{"r":"M","c":4,"f":1.7,"v":0.0},{"r":"M","c":4,"f":1.8,"v":-1.4},{"r":"M","c":4,"f":1.9,"v":-0.4},{"r":"M","c":4,"f":2,"v":-2.9},{"r":"M","c":4,"f":2.1,"v":-0.2},{"r":"M","c":4,"f":2.2,"v":-0.9},{"r":"M","c":4,"f":2.3,"v":-0.3},{"r":"M","c":4,"f":2.4,"v":-1.2},{"r":"M","c":4,"f":2.5,"v":-0.4},{"r":"M","c":4,"f":2.6,"v":0.05},{"r":"M","c":4,"f":2.65,"v":-1.5},{"r":"M","c":4,"f":2.7,"v":-0.5},{"r":"M","c":4,"f":2.8,"v":-1.1},{"r":"M","c":4,"f":2.9,"v":-0.4},{"r":"M","c":4,"f":3,"v":-2.2},{"r":"M","c":4,"f":3.1,"v":-0.6},{"r":"M","c":4,"f":3.2,"v":-1.3},{"r":"M","c":4,"f":3.3,"v":-0.7},{"r":"M","c":4,"f":3.4,"v":-1.6},{"r":"M","c":4,"f":3.5,"v":-0.5},{"r":"M","c":4,"f":3.6,"v":-0.9},{"r":"M","c":4,"f":3.7,"v":-1.8},{"r":"M","c":4,"f":3.8,"v":-0.8},{"r":"M","c":4,"f":3.9,"v":-1.4},{"r":"M","c":4,"f":4,"v":-0.6},{"r":"M","c":4,"f":4.1,"v":-1.7},{"r":"M","c":4,"f":4.2,"v":-0.8},{"r":"M","c":4,"f":4.3,"v":-2.0},{"r":"M","c":4,"f":4.4,"v":-3.95},{"r":"M","c":4,"f":4.5,"v":-0.7},{"r":"M","c":4,"f":4.6,"v":-1.3},{"r":"M","c":4,"f":4.7,"v":-0.6},{"r":"M","c":4,"f":4.8,"v":-1.5},{"r":"M","c":4,"f":4.9,"v":-0.9},{"r":"M","c":4,"f":5,"v":-2.6},
{"r":"M","c":5,"f":0,"v":-2.0},{"r":"M","c":5,"f":0.05,"v":0.2},{"r":"M","c":5,"f":0.1,"v":-0.4},{"r":"M","c":5,"f":0.2,"v":0.5},{"r":"M","c":5,"f":0.3,"v":-0.8},{"r":"M","c":5,"f":0.4,"v":0.7},{"r":"M","c":5,"f":0.5,"v":0.1},{"r":"M","c":5,"f":0.6,"v":0.9},{"r":"M","c":5,"f":0.7,"v":-0.5},{"r":"M","c":5,"f":0.8,"v":1.0},{"r":"M","c":5,"f":0.9,"v":-0.2},{"r":"M","c":5,"f":1,"v":0.8},{"r":"M","c":5,"f":1.1,"v":-1.8},{"r":"M","c":5,"f":1.2,"v":0.5},{"r":"M","c":5,"f":1.3,"v":-0.6},{"r":"M","c":5,"f":1.4,"v":0.6},{"r":"M","c":5,"f":1.5,"v":-1.0},{"r":"M","c":5,"f":1.6,"v":0.3},{"r":"M","c":5,"f":1.7,"v":-0.4},{"r":"M","c":5,"f":1.75,"v":0.6},{"r":"M","c":5,"f":1.8,"v":1.15},{"r":"M","c":5,"f":1.85,"v":0.2},{"r":"M","c":5,"f":1.9,"v":-0.7},{"r":"M","c":5,"f":2,"v":0.3},{"r":"M","c":5,"f":2.1,"v":-1.2},{"r":"M","c":5,"f":2.2,"v":0.1},{"r":"M","c":5,"f":2.3,"v":-0.6},{"r":"M","c":5,"f":2.4,"v":0.2},{"r":"M","c":5,"f":2.5,"v":-1.5},{"r":"M","c":5,"f":2.6,"v":-0.1},{"r":"M","c":5,"f":2.7,"v":-0.8},{"r":"M","c":5,"f":2.8,"v":0.0},{"r":"M","c":5,"f":2.9,"v":-1.1},{"r":"M","c":5,"f":3,"v":-0.3},{"r":"M","c":5,"f":3.1,"v":-0.9},{"r":"M","c":5,"f":3.2,"v":0.2},{"r":"M","c":5,"f":3.3,"v":-1.4},{"r":"M","c":5,"f":3.4,"v":-0.4},{"r":"M","c":5,"f":3.5,"v":-0.8},{"r":"M","c":5,"f":3.6,"v":0.3},{"r":"M","c":5,"f":3.7,"v":-1.0},{"r":"M","c":5,"f":3.8,"v":-0.5},{"r":"M","c":5,"f":3.9,"v":-1.9},{"r":"M","c":5,"f":4,"v":-0.6},{"r":"M","c":5,"f":4.1,"v":-1.1},{"r":"M","c":5,"f":4.2,"v":-0.4},{"r":"M","c":5,"f":4.3,"v":-1.3},{"r":"M","c":5,"f":4.4,"v":-0.7},{"r":"M","c":5,"f":4.5,"v":-2.2},{"r":"M","c":5,"f":4.6,"v":-0.8},{"r":"M","c":5,"f":4.7,"v":-1.2},{"r":"M","c":5,"f":4.8,"v":-0.6},{"r":"M","c":5,"f":4.9,"v":-1.5},{"r":"M","c":5,"f":5,"v":-0.9},
{"r":"M","c":6,"f":0,"v":-1.5},{"r":"M","c":6,"f":0.05,"v":0.6},{"r":"M","c":6,"f":0.1,"v":-0.2},{"r":"M","c":6,"f":0.2,"v":0.8},{"r":"M","c":6,"f":0.3,"v":-0.6},{"r":"M","c":6,"f":0.4,"v":0.7},{"r":"M","c":6,"f":0.5,"v":-0.1},{"r":"M","c":6,"f":0.6,"v":0.9},{"r":"M","c":6,"f":0.7,"v":-1.4},{"r":"M","c":6,"f":0.8,"v":0.6},{"r":"M","c":6,"f":0.9,"v":-0.3},{"r":"M","c":6,"f":1,"v":0.5},{"r":"M","c":6,"f":1.1,"v":-0.9},{"r":"M","c":6,"f":1.2,"v":0.4},{"r":"M","c":6,"f":1.3,"v":-0.2},{"r":"M","c":6,"f":1.4,"v":0.5},{"r":"M","c":6,"f":1.5,"v":-1.2},{"r":"M","c":6,"f":1.6,"v":0.3},{"r":"M","c":6,"f":1.7,"v":-0.5},{"r":"M","c":6,"f":1.8,"v":0.2},{"r":"M","c":6,"f":1.85,"v":-0.3},{"r":"M","c":6,"f":1.92,"v":0.75},{"r":"M","c":6,"f":1.97,"v":-0.4},{"r":"M","c":6,"f":2,"v":-1.6},{"r":"M","c":6,"f":2.1,"v":0.2},{"r":"M","c":6,"f":2.2,"v":-0.7},{"r":"M","c":6,"f":2.3,"v":0.3},{"r":"M","c":6,"f":2.4,"v":-1.1},{"r":"M","c":6,"f":2.5,"v":0.1},{"r":"M","c":6,"f":2.6,"v":-0.5},{"r":"M","c":6,"f":2.7,"v":0.2},{"r":"M","c":6,"f":2.8,"v":-1.3},{"r":"M","c":6,"f":2.9,"v":-0.1},{"r":"M","c":6,"f":3,"v":-0.8},{"r":"M","c":6,"f":3.1,"v":0.0},{"r":"M","c":6,"f":3.2,"v":-1.7},{"r":"M","c":6,"f":3.3,"v":-0.2},{"r":"M","c":6,"f":3.4,"v":-0.9},{"r":"M","c":6,"f":3.5,"v":-0.1},{"r":"M","c":6,"f":3.6,"v":-1.4},{"r":"M","c":6,"f":3.7,"v":-0.3},{"r":"M","c":6,"f":3.8,"v":-1.0},{"r":"M","c":6,"f":3.9,"v":-0.2},{"r":"M","c":6,"f":4,"v":-1.8},{"r":"M","c":6,"f":4.1,"v":-0.4},{"r":"M","c":6,"f":4.2,"v":-1.1},{"r":"M","c":6,"f":4.3,"v":-0.3},{"r":"M","c":6,"f":4.4,"v":-1.5},{"r":"M","c":6,"f":4.5,"v":-0.5},{"r":"M","c":6,"f":4.55,"v":-3.45},{"r":"M","c":6,"f":4.6,"v":-0.6},{"r":"M","c":6,"f":4.7,"v":-1.2},{"r":"M","c":6,"f":4.8,"v":-0.4},{"r":"M","c":6,"f":4.9,"v":-1.0},{"r":"M","c":6,"f":5,"v":-0.2}
]},
"facet": {
  "row": {"field": "r", "type": "nominal", "sort": ["A", "P", "M"], "title": null,
    "header": {"labelExpr": "datum.value == 'A' ? ['ACC', 'Power (db)'] : datum.value == 'P' ? ['Preprocessed', 'Power (db)'] : ['MA-removed', 'Power (db)']", "labelAngle": -90, "labelOrient": "left", "labelFont": "Liberation Sans", "labelFontSize": 15, "labelLineHeight": 17, "labelColor": "#222", "labelPadding": -7}},
  "column": {"field": "c", "type": "ordinal", "title": null,
    "header": {"labelExpr": "['', '0.4 m/s', '0.8 m/s', '1.6 m/s', '2.2 m/s', 'OG- 1.48 m/s', 'OG - 1.64 m/s'][datum.value]", "labelFont": "Liberation Serif", "labelFontWeight": "bold", "labelFontSize": 15, "labelColor": "#111", "labelPadding": 2}}
},
"spacing": {"row": 6, "column": 26.5},
"spec": {
  "width": 88,
  "height": 146,
  "layer": [
    {"transform": [{"filter": "isValid(datum.v)"}],
     "mark": {"type": "line", "clip": true, "color": "#0a6ebd", "strokeWidth": 1.4},
     "encoding": {
       "x": {"field": "f", "type": "quantitative", "scale": {"domain": [0, 5], "nice": false},
             "axis": {"values": [0, 1, 2, 3, 4, 5], "tickCount": 6, "title": null, "grid": false, "domain": false, "tickSize": 0, "labelFont": "Liberation Serif", "labelFontSize": 12, "labelColor": "#222", "labelPadding": 7, "labelOverlap": false, "labelFlush": false}},
       "y": {"field": "v", "type": "quantitative", "scale": {"domain": [-4, 3.3], "nice": false, "zero": false},
             "axis": {"values": [-4, -2, 0, 2], "title": null, "grid": false, "domain": false, "tickSize": 0, "labelFont": "Liberation Serif", "labelFontSize": 12, "labelColor": "#222", "labelPadding": 8, "labelOverlap": false,
                      "labelExpr": "datum.value == -4 ? '10⁻⁴' : datum.value == -2 ? '10⁻²' : datum.value == 0 ? '10⁰' : '10²'"}}
     }},
    {"transform": [{"filter": "isValid(datum.m)"}],
     "mark": {"type": "rule", "color": "#e8474a", "strokeDash": [7, 4], "strokeWidth": 1.5},
     "encoding": {"x": {"field": "m", "type": "quantitative", "scale": {"domain": [0, 5], "nice": false},
             "axis": {"values": [0, 1, 2, 3, 4, 5], "tickCount": 6, "title": null, "grid": false, "domain": false, "tickSize": 0, "labelFont": "Liberation Serif", "labelFontSize": 12, "labelColor": "#222", "labelPadding": 7, "labelOverlap": false, "labelFlush": false}}}}
  ]
},
"config": {"view": {"stroke": "#222", "strokeWidth": 1}, "axisX": {"labelOverlap": false, "labelFlush": false}}
}
